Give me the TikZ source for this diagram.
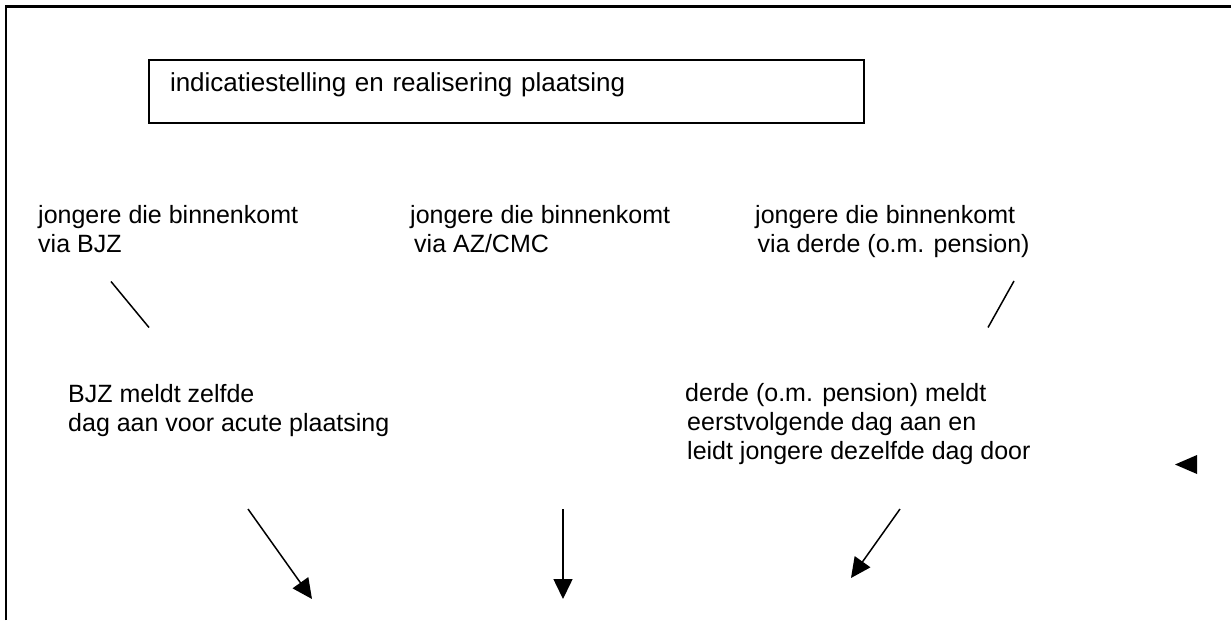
\documentclass[tikz,border=0pt]{standalone}
\usepackage{fontspec}
\setmainfont{Liberation Sans}
\usetikzlibrary{arrows.meta}
\begin{document}
\begin{tikzpicture}[x=1pt,y=-1pt,
  txt/.style={anchor=base west, inner sep=0pt, align=left, font=\fontsize{25}{29}\selectfont},
  boxnode/.style={draw, line width=2pt, anchor=north west, inner xsep=21pt, inner ysep=0pt,
    text width=673pt, align=left, text height=31pt, text depth=32pt, font=\fontsize{26}{30}\selectfont},
  conn/.style={line width=1.5pt},
  arr/.style={conn, -{Triangle[length=20pt,width=19pt]}},
  framestyle/.style={line width=2.3pt}]
\useasboundingbox (0,0) rectangle (1231,635);
% frame
\coordinate (fa) at (6,620);
\coordinate (fb) at (6,6.5);
\coordinate (fc) at (1231,6.5);
\draw[framestyle] (fa) -- (fb) -- (fc);
% title box
\node[boxnode] (box) at (148,59) {indicatiestelling en realisering plaatsing};
% texts (anchor = baseline of last line)
\node[txt] (bjz) at (38,252) {jongere die binnenkomt\\via BJZ};
\node[txt] (az) at (410,252) {jongere die binnenkomt\\\hspace*{4pt}via AZ/CMC};
\node[txt] (derde) at (755,252) {jongere die binnenkomt\\\hspace*{2.5pt}via derde (o.m. pension)};
\node[txt] (bjzmeld) at (68,431) {BJZ meldt zelfde\\dag aan voor acute plaatsing};
\node[txt] (derdemeld) at (685,459) {derde (o.m. pension) meldt\\\hspace*{2pt}eerstvolgende dag aan en\\\hspace*{2pt}leidt jongere dezelfde dag door};
% connectors
\coordinate (l1a) at (111,281.5);
\coordinate (l1b) at (149,327.5);
\coordinate (r1a) at (1014,281);
\coordinate (r1b) at (988,327.5);
\coordinate (la) at (248,509);
\coordinate (lb) at (312,599);
\coordinate (ma) at (563,509);
\coordinate (mb) at (563,599);
\coordinate (ra) at (900,509);
\coordinate (rb) at (851,578);
\draw[conn] (l1a) -- (l1b);
\draw[conn] (r1a) -- (r1b);
\draw[arr] (la) -- (lb);
\draw[arr] (ma) -- (mb);
\draw[arr] (ra) -- (rb);
% lone arrowhead
\coordinate (tri) at (1175,464.5);
\fill (tri) -- ++(22,-9.5) -- ++(0,19) -- cycle;
\end{tikzpicture}
\end{document}
